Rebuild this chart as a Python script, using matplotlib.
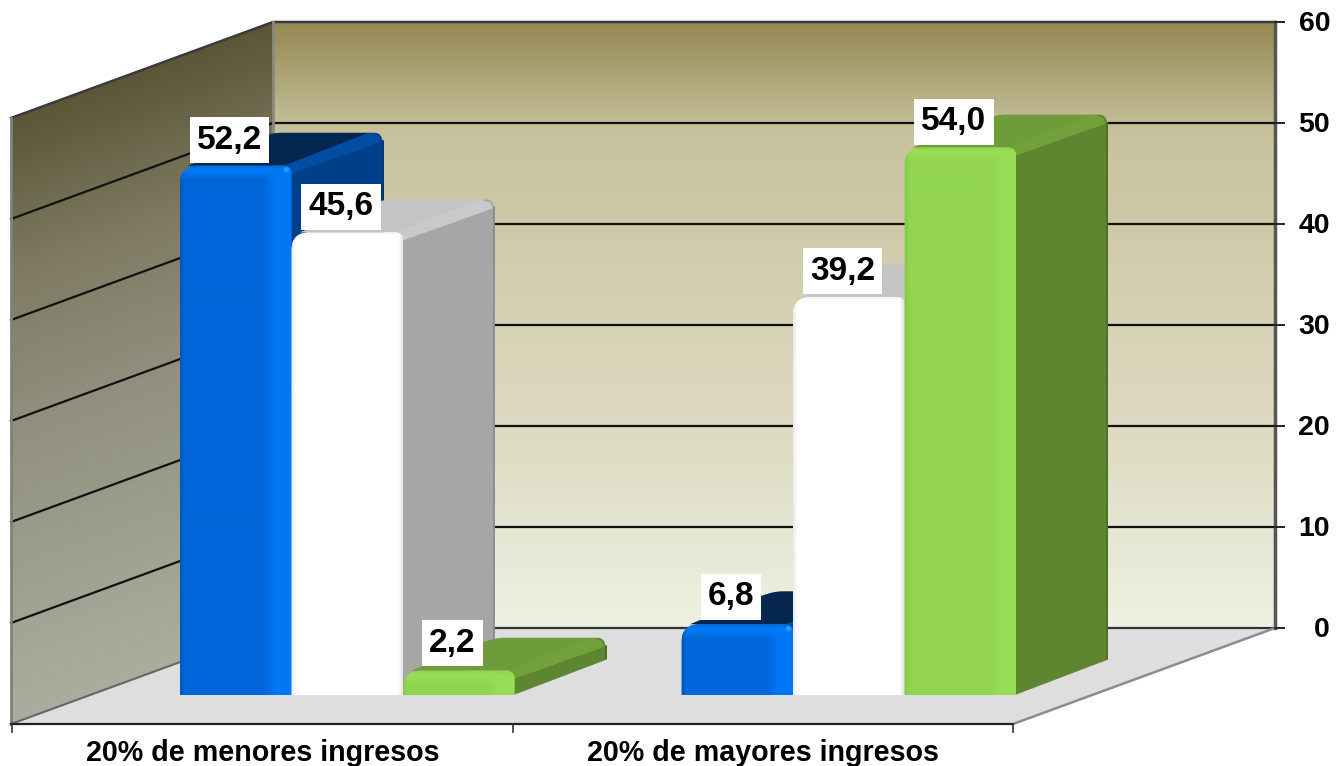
"""Grafico de barras 3D: distribucion por quintil de ingresos."""
import matplotlib
matplotlib.use('Agg')
import matplotlib.pyplot as plt
import matplotlib.colors as mcolors
import numpy as np
from matplotlib.patches import PathPatch, Polygon
from matplotlib.path import Path

plt.rcParams['font.family'] = ['Liberation Sans', 'DejaVu Sans']

CATEGORIES = ['20% de menores ingresos', '20% de mayores ingresos']
SERIE_AZUL = [52.2, 6.8]
SERIE_BLANCA = [45.6, 39.2]
SERIE_VERDE = [2.2, 54.0]
LABELS_AZUL = ['52,2', '6,8']
LABELS_BLANCA = ['45,6', '39,2']
LABELS_VERDE = ['2,2', '54,0']
Y_TICKS = [0, 10, 20, 30, 40, 50, 60]

W, H = 1336, 766
PX_PER_UNIT = 10.1
Y_ZERO = 628        # pixel row of value 0 on the back wall
BACK_X0, BACK_X1 = 273, 1275
FRONT_X0, FRONT_X1 = 11, 1013
WALL_DX, WALL_DY = 262, 96
BAR_DX, BAR_DY = 91, 33
BAR_BASE = 695
BAR_W = 111.5
GROUP_X = [180, 681.5]
TOP_PAD = 0.2

STYLES = {
    'azul': dict(front='#0066d9', band='#0078f5', top='#04264f', side='#003f8a',
                 ridge='#004da3', edge='#00346f', rim='#0058bb'),
    'blanca': dict(front='#ffffff', band='#ffffff', top='#c4c4c4', side='#a6a6a6',
                   ridge='#c9c9c9', edge='#8e8e8e', rim='#ececec'),
    'verde': dict(front='#92d450', band='#98dd55', top='#6f9c3a', side='#5e8530',
                  ridge='#72a13b', edge='#4d6f27', rim='#88c84a'),
}

BACK_STOPS = [(22, '#958852'), (60, '#a69c6c'), (110, '#bdb68f'), (130, '#c8c19c'),
              (300, '#d5d0b2'), (450, '#dedcc4'), (628, '#edf2e2')]
SIDE_STOPS = [(22, '#5b5637'), (180, '#7f7b63'), (340, '#929180'), (628, '#abad9e')]


def val(py):
    return (Y_ZERO - py) / PX_PER_UNIT


def ramp(t, stops):
    xs = [s[0] for s in stops]
    rgb_list = [mcolors.to_rgb(s[1]) for s in stops]
    return np.dstack([np.interp(t, xs, [c[i] for c in rgb_list]) for i in range(3)])


def rgb(c):
    return np.array(mcolors.to_rgb(c))


def label_box(x0, y0, width, height, mutation_size):
    # fixed 46 px tall white box, 7 px side padding
    cy = y0 + height / 2
    x1 = x0 + width
    verts = [(x0 - 7, cy - 23), (x1 + 7, cy - 23), (x1 + 7, cy + 23), (x0 - 7, cy + 23), (x0 - 7, cy - 23)]
    codes = [Path.MOVETO, Path.LINETO, Path.LINETO, Path.LINETO, Path.CLOSEPOLY]
    return Path(verts, codes)


def draw_walls(ax):
    # back wall
    yy, xx = np.mgrid[22:628, BACK_X0:BACK_X1]
    ax.imshow(ramp(yy, BACK_STOPS), extent=[BACK_X0, BACK_X1, 0, 60], aspect='auto', zorder=1)

    # left wall, gradient skewed with the wall
    yy, xx = np.mgrid[22:724, FRONT_X0:BACK_X0]
    eff = yy - (BACK_X0 - xx) * WALL_DY / WALL_DX
    im = ax.imshow(ramp(eff, SIDE_STOPS), extent=[FRONT_X0, BACK_X0, val(724), 60],
                   aspect='auto', zorder=1)
    wall = Polygon([(BACK_X0, 60), (BACK_X0, 0), (FRONT_X0, val(724)), (FRONT_X0, val(118))],
                   closed=True, fc='none', ec='none', zorder=1)
    ax.add_patch(wall)
    im.set_clip_path(wall)

    # floor
    ax.add_patch(Polygon([(BACK_X0, 0), (BACK_X1, 0), (FRONT_X1, val(724)), (FRONT_X0, val(724))],
                         closed=True, fc='#dedede', ec='none', zorder=1))

    # gridlines over both walls
    for t in Y_TICKS[1:-1]:
        ax.plot([FRONT_X0, BACK_X0, BACK_X1], [t + val(Y_ZERO + WALL_DY), t, t],
                color='#111111', lw=1.6, zorder=2)
    ax.plot([BACK_X0, BACK_X1], [0, 0], color='#333333', lw=1.6, zorder=2)
    ax.plot([FRONT_X0, BACK_X0, BACK_X1], [val(118), 60, 60], color='#3a3a3a', lw=1.8, zorder=2)
    ax.plot([BACK_X0, BACK_X0], [0, 60], color='#8a8a80', lw=2, zorder=2)
    ax.plot([BACK_X1, BACK_X1], [0, 60], color='#555555', lw=2.5, zorder=2)
    ax.plot([FRONT_X0, FRONT_X0], [val(724), val(118)], color='#808080', lw=2, zorder=2)
    ax.plot([FRONT_X0, BACK_X0], [val(724), 0], color='#666666', lw=1.5, zorder=2)
    ax.plot([FRONT_X1, BACK_X1], [val(724), 0], color='#8c8c8c', lw=1.8, zorder=2)

    # axis lines and tick marks
    ax.plot([FRONT_X0, FRONT_X1], [val(724), val(724)], color='#222222', lw=1.6, zorder=2)
    for x in [12, 513, 1013]:
        ax.plot([x, x], [val(724), val(732)], color='#333333', lw=1.2, zorder=2)
    for t in Y_TICKS:
        ax.plot([BACK_X1, BACK_X1 + 9], [t, t], color='#222222', lw=1.4, zorder=2)
        ax.text(1330, t - 0.22, str(t), ha='right', va='center', fontsize=20.5, fontweight='bold',
                color='black', zorder=3)


def draw_bar(ax, x0, value, style, z):
    s = STYLES[style]
    x1 = x0 + BAR_W
    base = val(BAR_BASE)
    top = base + value + TOP_PAD
    dx, dy = BAR_DX, BAR_DY / PX_PER_UNIT
    ry = 1 / PX_PER_UNIT

    # top face, rounded at the back
    top_path = Path(
        [(x0 + 8, top), (x1, top), (x1 + dx - 8, top + dy), (x0 + dx + 10, top + dy),
         (x0 + dx, top + dy), (x0 + dx - 12, top + dy - 5 * ry), (x0 + 8, top)],
        [Path.MOVETO, Path.LINETO, Path.LINETO, Path.LINETO,
         Path.CURVE3, Path.CURVE3, Path.CLOSEPOLY])
    ax.add_patch(PathPatch(top_path, fc=s['top'], ec='none', zorder=z))

    # side face, foot stops a little short of the full depth
    foot = base + dy + 2 * ry
    side_path = Path(
        [(x1 - 1, top), (x1 + dx - 8, top + dy), (x1 + dx, top + dy), (x1 + dx, top + dy - 10 * ry),
         (x1 + dx, foot), (x1 - 1, base), (x1 - 1, top)],
        [Path.MOVETO, Path.LINETO, Path.CURVE3, Path.CURVE3,
         Path.LINETO, Path.LINETO, Path.CLOSEPOLY])
    ax.add_patch(PathPatch(side_path, fc=s['side'], ec='none', zorder=z))
    ax.plot([x1 + dx, x1 + dx], [foot + ry, top + dy - 8 * ry], color=s['edge'], lw=1.4,
            solid_capstyle='round', zorder=z)

    # ridge between top and side
    ridge = Polygon([(x1 - 8, top), (x1 + dx - 14, top + dy), (x1 + dx - 4, top + dy - 3 * ry),
                     (x1 + dx - 1, top + dy - 9 * ry), (x1, top - 8 * ry)],
                    closed=True, fc=s['ridge'], ec='none', zorder=z)
    ax.add_patch(ridge)

    # front face with bevel shading
    r_l, r_r = 18, 8
    front_path = Path(
        [(x0, base), (x0, top - r_l * ry), (x0, top), (x0 + r_l, top), (x1 - r_r, top), (x1, top),
         (x1, top - r_r * ry), (x1, base), (x0, base)],
        [Path.MOVETO, Path.LINETO, Path.CURVE3, Path.CURVE3, Path.LINETO, Path.CURVE3, Path.CURVE3,
         Path.LINETO, Path.CLOSEPOLY])
    clip = PathPatch(front_path, fc=s['front'], ec='none', zorder=z)
    ax.add_patch(clip)

    h_px = int(round((top - base) * PX_PER_UNIT))
    w_px = int(round(BAR_W))
    yy, xx = np.mgrid[0:h_px, 0:w_px]
    img = np.ones((h_px, w_px, 3)) * rgb(s['front'])
    band = np.clip((xx - (w_px - 28)) / 12, 0, 1)[..., None]
    img = img * (1 - band) + rgb(s['band']) * band
    top_band = np.clip((14 - yy) / 8, 0, 1)[..., None]
    img = img * (1 - top_band) + rgb(s['band']) * top_band
    rim = np.clip((4 - xx) / 4, 0, 1)[..., None]
    img = img * (1 - rim) + rgb(s['rim']) * rim
    rim = np.clip((3 - yy) / 3, 0, 1)[..., None]
    img = img * (1 - rim * 0.6) + rgb(s['rim']) * rim * 0.6
    if style == 'blanca':
        rim = np.clip((xx - (w_px - 6)) / 6, 0, 1)[..., None]
        img = img * (1 - rim) + rgb('#d8d8d8') * rim
    if style == 'azul':
        # small highlight at the bevel corner
        d = np.hypot(xx - (w_px - 6), yy - 4)
        glow = np.clip((4 - d) / 4, 0, 1)[..., None]
        img = img * (1 - glow) + rgb('#30b0ff') * glow
    im = ax.imshow(img, extent=[x0, x1, base, top], aspect='auto', zorder=z, interpolation='bilinear')
    im.set_clip_path(clip)
    return top


def main():
    fig = plt.figure(figsize=(W / 100, H / 100), dpi=100)
    ax = fig.add_axes([0, 0, 1, 1])
    ax.axis('off')

    draw_walls(ax)

    series = [('azul', SERIE_AZUL, LABELS_AZUL), ('blanca', SERIE_BLANCA, LABELS_BLANCA),
              ('verde', SERIE_VERDE, LABELS_VERDE)]
    for g, gx in enumerate(GROUP_X):
        for i, (style, values, labels) in enumerate(series):
            x0 = gx + i * BAR_W
            top = draw_bar(ax, x0, values[g], style, 4 + g * 3 + i * 0.1)
            offs = 22.5 if values[g] < 10 else 21
            ax.annotate(labels[g], (x0 + BAR_W / 2, top), xytext=(-4.5, offs),
                        textcoords='offset points', ha='center', va='center_baseline',
                        fontsize=24, fontweight='bold', color='black', zorder=20,
                        bbox=dict(boxstyle=label_box, fc='white', ec='none'))

    for cat, cx in zip(CATEGORIES, [262.5, 763]):
        ax.text(cx, val(753), cat, ha='center', va='center', fontsize=20.6, fontweight='bold',
                color='black', zorder=3)

    ax.set_xlim(0, W)
    ax.set_ylim(val(H), val(0))
    fig.savefig('out.png', dpi=100, facecolor='white')
    plt.close(fig)


if __name__ == '__main__':
    main()
